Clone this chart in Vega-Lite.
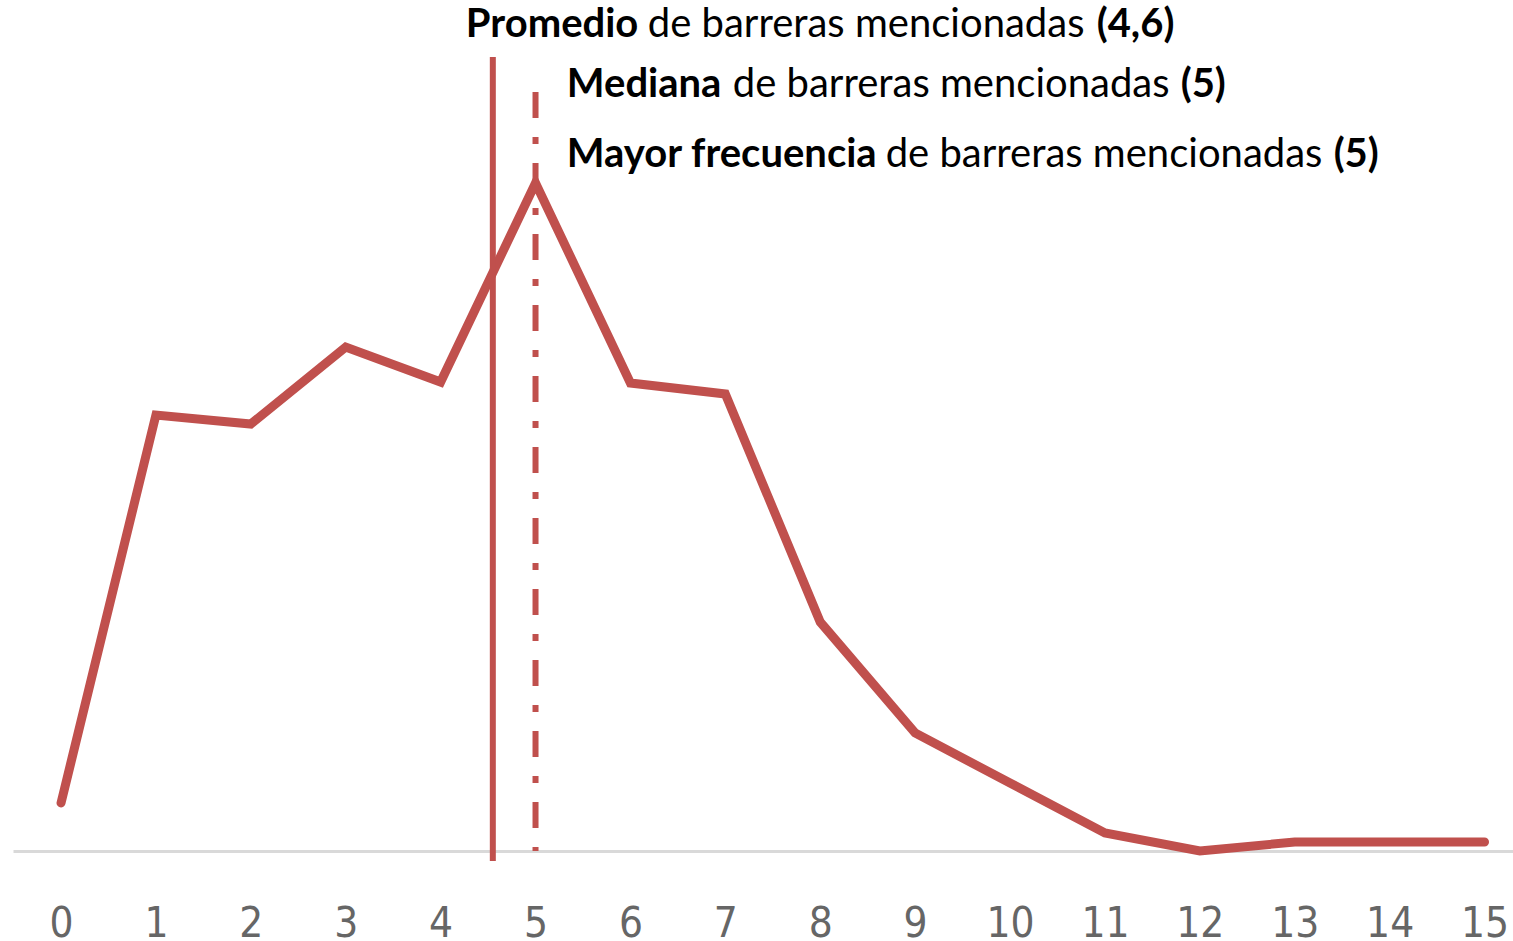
{
  "$schema": "https://vega.github.io/schema/vega-lite/v6.json",
  "autosize": "none",
  "width": 1500,
  "height": 851,
  "padding": {"left": 13, "top": 0, "right": 0, "bottom": 90},
  "background": "white",
  "config": {"view": {"stroke": null}},
  "datasets": {
    "serie": [
      {"barreras": 0, "valor": 48},
      {"barreras": 1, "valor": 436},
      {"barreras": 2, "valor": 427},
      {"barreras": 3, "valor": 504},
      {"barreras": 4, "valor": 469},
      {"barreras": 5, "valor": 668},
      {"barreras": 6, "valor": 468},
      {"barreras": 7, "valor": 457},
      {"barreras": 8, "valor": 229},
      {"barreras": 9, "valor": 118},
      {"barreras": 10, "valor": 68},
      {"barreras": 11, "valor": 18},
      {"barreras": 12, "valor": 0},
      {"barreras": 13, "valor": 9},
      {"barreras": 14, "valor": 9},
      {"barreras": 15, "valor": 9}
    ],
    "lineas": [
      {"tipo": "Promedio", "x": 4.55, "y": 794, "y2": -10},
      {"tipo": "Mediana", "x": 5, "y": 759, "y2": 0}
    ],
    "textos": [
      {"x": 4.266, "y": 814, "texto": "Promedio", "peso": "bold"},
      {"x": 6.183, "y": 814, "texto": "de barreras mencionadas", "peso": "normal"},
      {"x": 10.913, "y": 814, "texto": "(4,6)", "peso": "bold"},
      {"x": 5.33, "y": 754, "texto": "Mediana", "peso": "bold"},
      {"x": 7.079, "y": 754, "texto": "de barreras mencionadas", "peso": "normal"},
      {"x": 11.798, "y": 754, "texto": "(5)", "peso": "bold"},
      {"x": 5.33, "y": 684, "texto": "Mayor frecuencia", "peso": "bold"},
      {"x": 8.69, "y": 684, "texto": "de barreras mencionadas", "peso": "normal"},
      {"x": 13.41, "y": 684, "texto": "(5)", "peso": "bold"}
    ]
  },
  "layer": [
    {
      "data": {"name": "serie"},
      "mark": {"type": "line", "color": "#C0504D", "strokeWidth": 9, "strokeCap": "round"},
      "encoding": {
        "x": {
          "field": "barreras", "type": "quantitative",
          "scale": {"domain": [-0.506, 15.3], "nice": false, "zero": false},
          "axis": {
            "title": null, "values": [0,1,2,3,4,5,6,7,8,9,10,11,12,13,14,15], "format": "d",
            "grid": false, "ticks": false, "tickSize": 0,
            "domainColor": "#d9d9d9", "domainWidth": 3,
            "labelFont": "'DejaVu Sans Condensed', Roboto", "labelFontWeight": "normal", "labelFontSize": 42,
            "labelColor": "#666666", "labelBaseline": "alphabetic", "labelPadding": 85,
            "labelFlush": false, "labelOverlap": false
          }
        },
        "y": {
          "field": "valor", "type": "quantitative",
          "scale": {"domain": [0, 851], "nice": false, "zero": false},
          "axis": null
        }
      }
    },
    {
      "data": {"name": "lineas"},
      "mark": {"type": "rule", "color": "#C0504D", "strokeWidth": 6},
      "encoding": {
        "x": {"field": "x", "type": "quantitative"},
        "y": {"field": "y", "type": "quantitative"},
        "y2": {"field": "y2"},
        "strokeDash": {
          "field": "tipo", "type": "nominal",
          "scale": {"domain": ["Promedio", "Mediana"], "range": [[1, 0], [26, 19, 7, 19]]},
          "legend": null
        }
      }
    },
    {
      "data": {"name": "textos"},
      "transform": [{"filter": "datum.peso === 'normal'"}],
      "mark": {"type": "text", "align": "left", "baseline": "alphabetic", "font": "Lato", "fontWeight": "normal", "fontSize": 40, "color": "#000000"},
      "encoding": {
        "x": {"field": "x", "type": "quantitative"},
        "y": {"field": "y", "type": "quantitative"},
        "text": {"field": "texto"}
      }
    },
    {
      "data": {"name": "textos"},
      "transform": [{"filter": "datum.peso === 'bold'"}],
      "mark": {"type": "text", "align": "left", "baseline": "alphabetic", "font": "Lato", "fontWeight": "bold", "fontSize": 40, "color": "#000000"},
      "encoding": {
        "x": {"field": "x", "type": "quantitative"},
        "y": {"field": "y", "type": "quantitative"},
        "text": {"field": "texto"}
      }
    }
  ]
}
